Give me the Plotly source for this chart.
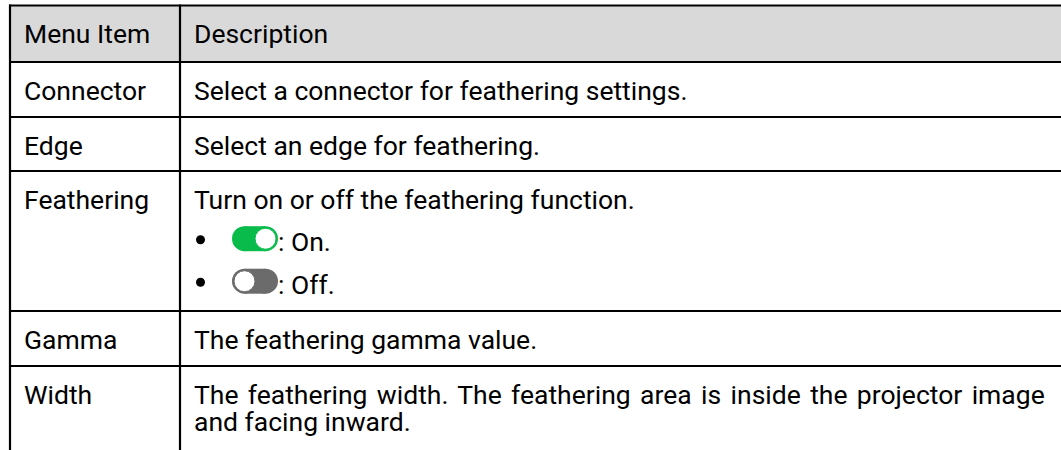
import plotly.graph_objects as go

# ---- table content ----
headers = ["Menu Item", "Description"]
menu_items = ["Connector", "Edge", "Feathering", "Gamma", "Width"]
descriptions = [
    ["Select a connector for feathering settings."],
    ["Select an edge for feathering."],
    ["Turn on or off the feathering function."],
    ["The feathering gamma value."],
    ["The feathering width. The feathering area is inside the projector image",
     "and facing inward."],
]
bullet_states = ["On.", "Off."]   # toggle legend in Feathering row
toggle_on = [True, False]

# ---- layout constants (pixel geometry) ----
W, H = 1061, 450
X_LEFT, X_DIV, X_RIGHT = 10, 180, 1075
ROW_EDGES = [5.5, 62, 117, 171, 311, 366, 470]
FS = 26.5
FONT = "Roboto"
TEXT_COLOR = "#000000"
HEADER_FILL = "#d9d9d9"
GREEN = "#08bb4b"
GREY = "#6b6b6b"
PAD_X1, PAD_X2 = 24.5, 195
TEXT_INSET = 3          # annotation inner padding compensation
CAP_TOP_PAD = 19
LINE_STEP = 27
PARA_STEP = 42.5

fig = go.Figure()
shapes = []
annotations = []

# header fill
shapes.append(dict(type="rect", x0=X_LEFT, x1=X_RIGHT, y0=ROW_EDGES[0], y1=ROW_EDGES[1],
                   fillcolor=HEADER_FILL, line_width=0, layer="below"))
# horizontal rules
for y in ROW_EDGES[:-1]:
    shapes.append(dict(type="line", x0=X_LEFT - 1, x1=X_RIGHT, y0=y, y1=y,
                       line=dict(color="black", width=2.2)))
# vertical rules
for x in (X_LEFT, X_DIV):
    shapes.append(dict(type="line", x0=x, x1=x, y0=ROW_EDGES[0] - 1, y1=ROW_EDGES[-1],
                       line=dict(color="black", width=2.2)))


def text(x, cap_top, s):
    baseline = cap_top + 0.711 * FS
    annotations.append(dict(x=x - TEXT_INSET, y=baseline - 0.355 * FS, text=s,
                            showarrow=False, xanchor="left", yanchor="middle",
                            font=dict(family=FONT, size=FS, color=TEXT_COLOR)))


# header
text(PAD_X1, ROW_EDGES[0] + CAP_TOP_PAD, headers[0])
text(PAD_X2, ROW_EDGES[0] + CAP_TOP_PAD, headers[1])

for i, (item, desc) in enumerate(zip(menu_items, descriptions)):
    top = ROW_EDGES[i + 1] + CAP_TOP_PAD
    text(PAD_X1, top, item)
    for j, line in enumerate(desc):
        if item == "Width" and j == 0:
            line = '<span style="word-spacing:2.8px">' + line + '</span>'
        text(PAD_X2, top + j * LINE_STEP, line)
    if item == "Feathering":
        for k, (lab, on) in enumerate(zip(bullet_states, toggle_on)):
            ct = top + (k + 1) * PARA_STEP
            cy = ct + 0.355 * FS - 3.2
            # bullet
            shapes.append(dict(type="circle", x0=196, x1=205, y0=cy - 3.5, y1=cy + 5.5,
                               fillcolor="black", line_width=0))
            # pill
            px0, px1, r = 232, 278, 12.5
            col = GREEN if on else GREY
            shapes.append(dict(type="circle", x0=px0, x1=px0 + 2 * r, y0=cy - r, y1=cy + r,
                               fillcolor=col, line_width=0))
            shapes.append(dict(type="circle", x0=px1 - 2 * r, x1=px1, y0=cy - r, y1=cy + r,
                               fillcolor=col, line_width=0))
            shapes.append(dict(type="rect", x0=px0 + r, x1=px1 - r, y0=cy - r, y1=cy + r,
                               fillcolor=col, line_width=0))
            kr = 10.5
            kx = px1 - r if on else px0 + r
            shapes.append(dict(type="circle", x0=kx - kr, x1=kx + kr, y0=cy - kr, y1=cy + kr,
                               fillcolor="white",
                               line=dict(color=col, width=1)))
            text(278.5, ct, ": " + lab)

fig.update_layout(
    width=W, height=H, margin=dict(l=0, r=0, t=0, b=0),
    paper_bgcolor="white", plot_bgcolor="white",
    xaxis=dict(range=[0, W], visible=False, fixedrange=True),
    yaxis=dict(range=[H, 0], visible=False, fixedrange=True),
    shapes=shapes, annotations=annotations, showlegend=False,
)
fig.write_html("out.html", config={"displayModeBar": False},
               post_script="document.body.style.margin='0px';"
                           "document.body.style.overflow='hidden';")
